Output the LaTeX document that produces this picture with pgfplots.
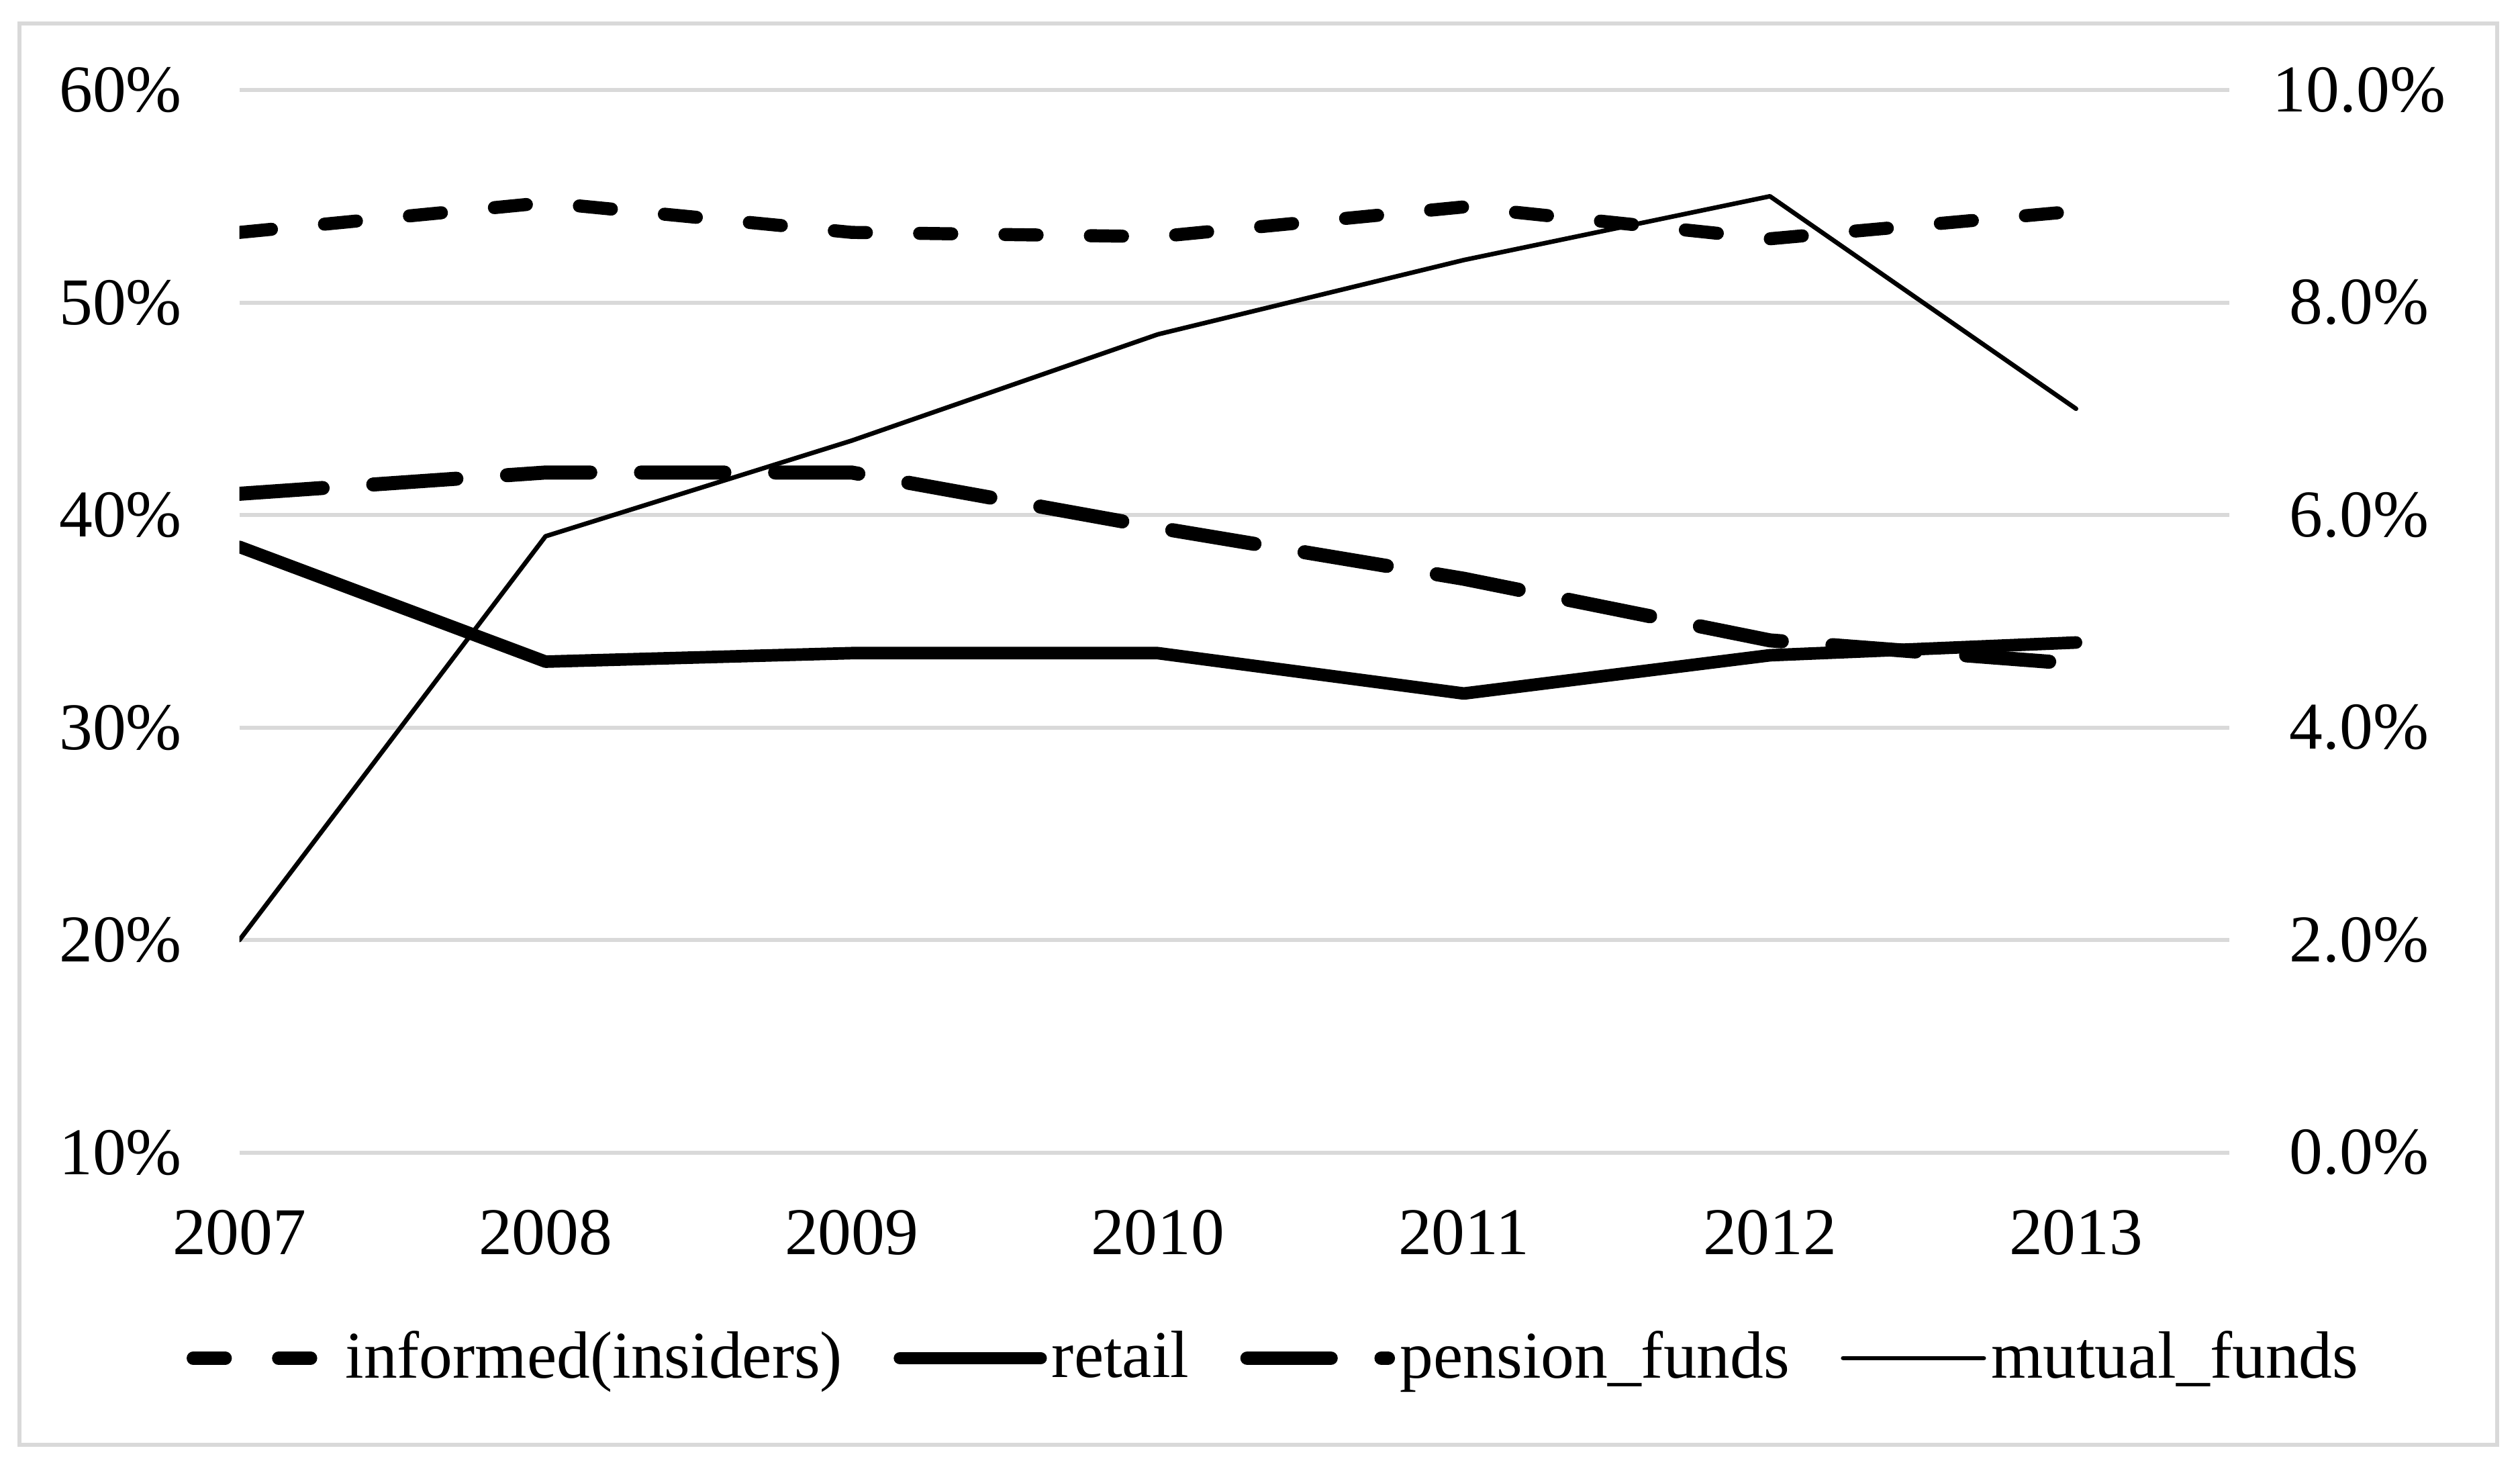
\documentclass[border=0pt]{standalone}
\usepackage{fontspec}
\setmainfont{Liberation Serif}
\usepackage{pgfplots}
\pgfplotsset{compat=1.18}
\definecolor{gridgray}{HTML}{D9D9D9}
\newcommand{\chartfont}{\fontsize{13.3pt}{16pt}\selectfont}
\begin{document}
\begin{tikzpicture}
\useasboundingbox (-47.68pt,-63.36pt) rectangle (454.08pt,229.44pt);
\draw[gridgray, line width=0.8pt] (-43.84pt,-58.24pt) rectangle (449.6pt,224.77pt);
\begin{axis}[
  at={(0,0)}, anchor=south west,
  scale only axis, width=396.16pt, height=211.52pt,
  xmin=2007, xmax=2013.5, ymin=10, ymax=60,
  xtick={2007,2008,2009,2010,2011,2012,2013},
  xticklabels={2007,2008,2009,2010,2011,2012,2013},
  ytick={10,20,30,40,50,60},
  yticklabels={10\%,20\%,30\%,40\%,50\%,60\%},
  xtick pos=bottom, ytick pos=left,
  axis line style={draw=none},
  major tick length=0pt,
  ymajorgrids, grid style={gridgray, line width=0.8pt},
  ticklabel style={font=\chartfont},
  yticklabel style={anchor=east, inner sep=0pt, xshift=-11.3pt},
  xticklabel style={anchor=north, inner sep=0pt, yshift=-11.2pt},
  legend style={at={(0.5205,-0.1936)}, anchor=center, draw=none, fill=none,
    legend columns=4, font=\chartfont, inner sep=0pt,
    nodes={inner sep=1pt},
    /tikz/every even column/.append style={column sep=9.2pt}},
  legend image code/.code={\draw[#1] (0pt,0pt) -- (28pt,0pt);},
]
\addplot[black, line width=2.6pt, line cap=round, line join=round, dash pattern=on 6.4pt off 10.6pt]
  coordinates {(2007,53.3) (2008,54.7) (2009,53.3) (2010,53.1) (2011,54.5) (2012,53.0) (2013,54.3)};
\addlegendentry{informed(insiders)}
\addplot[black, line width=2.5pt, line cap=round, line join=round]
  coordinates {(2007,38.5) (2008,33.1) (2009,33.5) (2010,33.5) (2011,31.6) (2012,33.4) (2013,34.0)};
\addlegendentry{retail}
\addplot[black, line width=2.8pt, line cap=round, line join=round, dash pattern=on 16.6pt off 10.1pt]
  coordinates {(2007,41.0) (2008,42.0) (2009,42.0) (2010,39.4) (2011,37.0) (2012,34.1) (2013,33.0)};
\addlegendentry{pension\_funds}
\addlegendimage{black, line width=0.9pt, line cap=round}
\addlegendentry{mutual\_funds}
\end{axis}
\begin{axis}[
  at={(0,0)}, anchor=south west,
  scale only axis, width=396.16pt, height=211.52pt,
  xmin=2007, xmax=2013.5, ymin=0, ymax=10,
  axis x line=none,
  ytick={0,2,4,6,8,10},
  yticklabels={0.0\%,2.0\%,4.0\%,6.0\%,8.0\%,10.0\%},
  ytick pos=right,
  axis line style={draw=none},
  major tick length=0pt,
  ticklabel style={font=\chartfont},
  yticklabel style={anchor=center, inner sep=0pt, xshift=25.9pt},
]
\addplot[black, line width=0.9pt, line cap=round, line join=round]
  coordinates {(2007,2.0) (2008,5.8) (2009,6.7) (2010,7.7) (2011,8.4) (2012,9.0) (2013,7.0)};
\end{axis}
\end{tikzpicture}
\end{document}
